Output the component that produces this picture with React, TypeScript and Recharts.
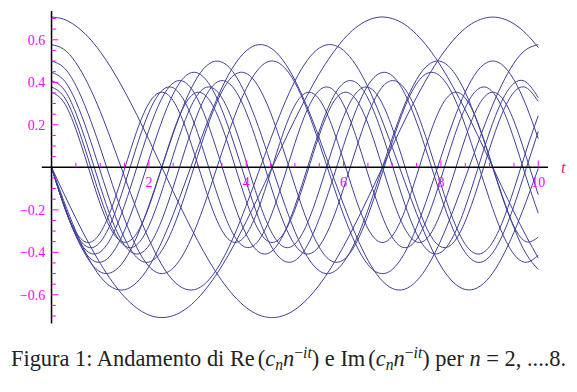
import { LineChart, Line, XAxis, YAxis, ReferenceLine, ReferenceDot } from 'recharts'

const SERIF = 'Liberation Serif, Times New Roman, serif'
const MAGENTA = '#ff00ff'
const CURVE = '#3f3f99'

// t sampled every 0.25
const tValues = [
  0, 0.25, 0.5, 0.75, 1, 1.25, 1.5, 1.75, 2, 2.25,
  2.5, 2.75, 3, 3.25, 3.5, 3.75, 4, 4.25, 4.5, 4.75,
  5, 5.25, 5.5, 5.75, 6, 6.25, 6.5, 6.75, 7, 7.25,
  7.5, 7.75, 8, 8.25, 8.5, 8.75, 9, 9.25, 9.5, 9.75,
  10,
]

const re2 = [
  0.707, 0.697, 0.665, 0.614, 0.544, 0.458, 0.358, 0.248, 0.130, 0.008,
  -0.114, -0.233, -0.344, -0.446, -0.534, -0.606, -0.660, -0.694, -0.707, -0.699,
  -0.670, -0.621, -0.554, -0.470, -0.372, -0.262, -0.145, -0.024, 0.098, 0.218,
  0.330, 0.433, 0.523, 0.597, 0.654, 0.690, 0.706, 0.701, 0.675, 0.629,
  0.564,
]
const im2 = [
  0, -0.122, -0.240, -0.351, -0.452, -0.539, -0.610, -0.662, -0.695, -0.707,
  -0.698, -0.668, -0.618, -0.549, -0.464, -0.365, -0.255, -0.138, -0.016, 0.106,
  0.225, 0.337, 0.440, 0.528, 0.602, 0.657, 0.692, 0.707, 0.700, 0.673,
  0.625, 0.559, 0.476, 0.378, 0.270, 0.153, 0.032, -0.091, -0.210, -0.323,
  -0.427,
]
const re3 = [
  0.577, 0.556, 0.492, 0.392, 0.263, 0.113, -0.044, -0.199, -0.338, -0.453,
  -0.533, -0.573, -0.571, -0.525, -0.440, -0.322, -0.180, -0.025, 0.132, 0.280,
  0.406, 0.502, 0.561, 0.577, 0.550, 0.482, 0.378, 0.245, 0.094, -0.064,
  -0.217, -0.354, -0.465, -0.540, -0.575, -0.567, -0.517, -0.427, -0.306, -0.162,
  -0.005,
]
const im3 = [
  0, -0.157, -0.301, -0.424, -0.514, -0.566, -0.576, -0.542, -0.468, -0.358,
  -0.222, -0.069, 0.089, 0.240, 0.374, 0.479, 0.548, 0.577, 0.562, 0.505,
  0.410, 0.285, 0.138, -0.020, -0.175, -0.318, -0.437, -0.523, -0.570, -0.574,
  -0.535, -0.456, -0.343, -0.204, -0.050, 0.108, 0.258, 0.388, 0.490, 0.554,
  0.577,
]
const re4 = [
  0.500, 0.470, 0.385, 0.253, 0.092, -0.081, -0.243, -0.377, -0.466, -0.500,
  -0.474, -0.392, -0.263, -0.103, 0.070, 0.234, 0.370, 0.462, 0.500, 0.477,
  0.399, 0.272, 0.114, -0.058, -0.224, -0.362, -0.458, -0.499, -0.481, -0.405,
  -0.282, -0.125, 0.047, 0.214, 0.354, 0.453, 0.498, 0.484, 0.412, 0.291,
  0.135,
]
const im4 = [
  0, -0.170, -0.319, -0.431, -0.492, -0.493, -0.437, -0.328, -0.180, -0.011,
  0.159, 0.311, 0.425, 0.489, 0.495, 0.442, 0.336, 0.191, 0.022, -0.149,
  -0.302, -0.419, -0.487, -0.497, -0.447, -0.345, -0.201, -0.034, 0.138, 0.293,
  0.413, 0.484, 0.498, 0.452, 0.353, 0.211, 0.045, -0.127, -0.284, -0.407,
  -0.481,
]
const re5 = [
  0.447, 0.411, 0.310, 0.159, -0.017, -0.191, -0.334, -0.424, -0.446, -0.397,
  -0.284, -0.126, 0.052, 0.222, 0.356, 0.434, 0.442, 0.380, 0.257, 0.093,
  -0.086, -0.251, -0.376, -0.441, -0.435, -0.360, -0.228, -0.059, 0.119, 0.279,
  0.393, 0.445, 0.426, 0.339, 0.197, 0.024, -0.152, -0.305, -0.409, -0.447,
  -0.414,
]
const im5 = [
  0, -0.175, -0.322, -0.418, -0.447, -0.404, -0.297, -0.143, 0.035, 0.206,
  0.345, 0.429, 0.444, 0.388, 0.271, 0.110, -0.069, -0.236, -0.366, -0.437,
  -0.439, -0.370, -0.242, -0.076, 0.103, 0.265, 0.385, 0.443, 0.431, 0.350,
  0.213, 0.042, -0.136, -0.292, -0.401, -0.447, -0.420, -0.327, -0.182, -0.007,
  0.169,
]
const re6 = [
  0.408, 0.368, 0.255, 0.092, -0.089, -0.253, -0.367, -0.408, -0.369, -0.257,
  -0.094, 0.087, 0.251, 0.366, 0.408, 0.370, 0.259, 0.097, -0.085, -0.249,
  -0.365, -0.408, -0.371, -0.261, -0.099, 0.082, 0.247, 0.364, 0.408, 0.372,
  0.263, 0.101, -0.080, -0.245, -0.362, -0.408, -0.373, -0.265, -0.104, 0.077,
  0.243,
]
const im6 = [
  0, -0.177, -0.319, -0.398, -0.398, -0.320, -0.179, -0.002, 0.175, 0.317,
  0.397, 0.399, 0.322, 0.181, 0.005, -0.172, -0.316, -0.397, -0.399, -0.323,
  -0.183, -0.007, 0.170, 0.314, 0.396, 0.400, 0.325, 0.186, 0.010, -0.168,
  -0.313, -0.395, -0.400, -0.326, -0.188, -0.012, 0.166, 0.311, 0.395, 0.401,
  0.328,
]
const re7 = [
  0.378, 0.334, 0.213, 0.042, -0.138, -0.287, -0.369, -0.365, -0.276, -0.124,
  0.057, 0.225, 0.341, 0.378, 0.327, 0.200, 0.027, -0.153, -0.297, -0.372,
  -0.361, -0.266, -0.109, 0.073, 0.238, 0.347, 0.377, 0.319, 0.186, 0.011,
  -0.167, -0.306, -0.374, -0.356, -0.254, -0.094, 0.088, 0.249, 0.353, 0.375,
  0.310,
]
const im7 = [
  0, -0.177, -0.312, -0.376, -0.352, -0.246, -0.083, 0.099, 0.258, 0.357,
  0.374, 0.303, 0.163, -0.016, -0.190, -0.321, -0.377, -0.346, -0.234, -0.068,
  0.113, 0.269, 0.362, 0.371, 0.294, 0.149, -0.031, -0.203, -0.329, -0.378,
  -0.339, -0.222, -0.053, 0.128, 0.280, 0.366, 0.368, 0.284, 0.134, -0.046,
  -0.216,
]
const re8 = [
  0.354, 0.307, 0.179, 0.004, -0.172, -0.303, -0.353, -0.311, -0.186, -0.012,
  0.165, 0.299, 0.353, 0.314, 0.193, 0.020, -0.158, -0.294, -0.353, -0.318,
  -0.199, -0.028, 0.151, 0.290, 0.352, 0.321, 0.206, 0.036, -0.144, -0.285,
  -0.351, -0.325, -0.212, -0.044, 0.137, 0.281, 0.350, 0.328, 0.218, 0.051,
  -0.129,
]
const im8 = [
  0, -0.176, -0.305, -0.354, -0.309, -0.182, -0.008, 0.169, 0.301, 0.353,
  0.313, 0.189, 0.016, -0.162, -0.297, -0.353, -0.316, -0.196, -0.024, 0.155,
  0.292, 0.352, 0.320, 0.202, 0.032, -0.147, -0.288, -0.352, -0.323, -0.209,
  -0.040, 0.140, 0.283, 0.351, 0.326, 0.215, 0.047, -0.133, -0.278, -0.350,
  -0.329,
]

const series = [
  { key: 're2', values: re2 }, { key: 'im2', values: im2 },
  { key: 're3', values: re3 }, { key: 'im3', values: im3 },
  { key: 're4', values: re4 }, { key: 'im4', values: im4 },
  { key: 're5', values: re5 }, { key: 'im5', values: im5 },
  { key: 're6', values: re6 }, { key: 'im6', values: im6 },
  { key: 're7', values: re7 }, { key: 'im7', values: im7 },
  { key: 're8', values: re8 }, { key: 'im8', values: im8 },
]

const xLabelTicks = [2, 4, 6, 8, 10]
const xMinorTicks = [0.5, 1, 1.5, 2.5, 3, 3.5, 4.5, 5, 5.5, 6.5, 7, 7.5, 8.5, 9, 9.5]
const yLabelTicks = [-0.6, -0.4, -0.2, 0.2, 0.4, 0.6]
const yMinorTicks = [
  -0.7, -0.65, -0.55, -0.5, -0.45, -0.35, -0.3, -0.25, -0.15, -0.1, -0.05,
  0.05, 0.1, 0.15, 0.25, 0.3, 0.35, 0.45, 0.5, 0.55, 0.65, 0.7,
]

const data = tValues.map((t, i) => {
  const row: Record<string, number> = { t }
  series.forEach((s) => {
    row[s.key] = s.values[i]
  })
  return row
})

function fmt(v: number) {
  return v < 0 ? '\u2212' + Math.abs(v).toFixed(1) : v.toFixed(1)
}

function YTick({ x, y, payload }: any) {
  return (
    <text x={x + 3.5} y={y} dy="0.35em" textAnchor="end" fill={MAGENTA} fontSize={14} fontFamily={SERIF}>
      {fmt(payload.value)}
    </text>
  )
}

export default function App() {
  return (
    <div style={{ position: 'absolute', left: 0, top: 0, width: 577, height: 392, background: '#fff' }}>
      <LineChart
        width={577}
        height={335}
        data={data}
        margin={{ top: 11.1, right: 29, bottom: 11.5, left: 0 }}
      >
        <XAxis type="number" dataKey="t" domain={[-0.2, 10.2]} hide />
        <YAxis
          type="number"
          domain={[-0.735, 0.735]}
          ticks={yLabelTicks}
          width={41.8}
          axisLine={false}
          tickLine={false}
          tickSize={0}
          tickMargin={0}
          tick={<YTick />}
        />
        {series.map((s) => (
          <Line
            key={s.key}
            dataKey={s.key}
            type="natural"
            stroke={CURVE}
            strokeWidth={1}
            dot={false}
            activeDot={false}
            isAnimationActive={false}
          />
        ))}
        <ReferenceLine x={0} stroke="#000" strokeWidth={1.5} />
        <ReferenceLine
          y={0}
          stroke="#000"
          strokeWidth={1.5}
          label={{ value: 't', position: 'right', offset: 13, fill: '#ee2266', fontSize: 17, fontStyle: 'italic', fontFamily: SERIF }}
        />
        {xMinorTicks.map((t) => (
          <ReferenceLine key={'xm' + t} segment={[{ x: t, y: 0 }, { x: t, y: 0.021 }]} stroke={MAGENTA} strokeWidth={1} />
        ))}
        {xLabelTicks.map((t) => (
          <ReferenceLine key={'xM' + t} segment={[{ x: t, y: 0 }, { x: t, y: 0.032 }]} stroke={MAGENTA} strokeWidth={1} />
        ))}
        {yMinorTicks.map((v) => (
          <ReferenceLine key={'ym' + v} segment={[{ x: 0, y: v }, { x: 0.088, y: v }]} stroke={MAGENTA} strokeWidth={1} />
        ))}
        {yLabelTicks.map((v) => (
          <ReferenceLine key={'yM' + v} segment={[{ x: 0, y: v }, { x: 0.14, y: v }]} stroke={MAGENTA} strokeWidth={1} />
        ))}
        {xLabelTicks.map((t) => (
          <ReferenceDot
            key={'xl' + t}
            x={t}
            y={0}
            r={1}
            fill="none"
            stroke="none"
            label={{ value: String(t), position: 'bottom', offset: 9, fill: MAGENTA, fontSize: 14, fontFamily: SERIF }}
          />
        ))}
      </LineChart>
      <div
        style={{
          position: 'absolute',
          left: 11,
          top: 348,
          fontFamily: SERIF,
          fontSize: 22.4,
          lineHeight: '22px',
          whiteSpace: 'nowrap',
          color: '#222',
        }}
      >
        Figura 1: Andamento di Re<span style={{ marginLeft: 3 }}>(</span>
        <i>c</i>
        <span style={{ fontSize: '0.7em', position: 'relative', top: '0.25em' }}><i>n</i></span>
        <i>n</i>
        <span style={{ fontSize: '0.7em', position: 'relative', top: '-0.5em' }}>−<i>it</i></span>) e Im
        <span style={{ marginLeft: 3 }}>(</span>
        <i>c</i>
        <span style={{ fontSize: '0.7em', position: 'relative', top: '0.25em' }}><i>n</i></span>
        <i>n</i>
        <span style={{ fontSize: '0.7em', position: 'relative', top: '-0.5em' }}>−<i>it</i></span>) per <i>n</i> = 2, ....8.
      </div>
    </div>
  )
}
